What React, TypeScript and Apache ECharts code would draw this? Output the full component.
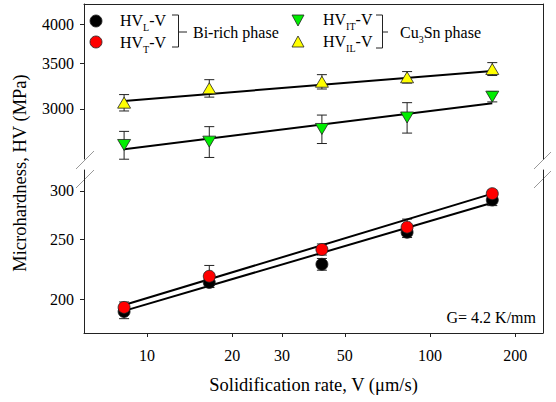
import React, { useEffect, useRef } from "react";
import * as echarts from "echarts";

const V = [8.3, 16.6, 41.5, 83, 166];
const hvL = [191, 213, 228, 257, 290];
const hvLErr = [5, 4, 5, 5, 6];
const hvT = [194, 218, 241, 262, 297];
const hvTErr = [4, 9, 5, 8, 4];
const hvIT = [2656, 2686, 2804, 2915, 3128];
const hvITErr = [125, 140, 135, 150, 55];
const hvIL = [3065, 3218, 3290, 3340, 3435];
const hvILErr = [85, 95, 80, 65, 75];
const fitV = [8.3, 166];
const fitL = [191.5, 287];
const fitT = [195.7, 297];
const fitIT = [2617, 3059];
const fitIL = [3083, 3412];
const xTicks = [10, 20, 30, 50, 100, 200];
const yTicksLow = [200, 250, 300];
const yTicksHigh = [3000, 3500, 4000];

const FONT = "Liberation Serif";
const lg = Math.log10;

export default function App() {
  const ref = useRef<HTMLDivElement>(null);
  useEffect(() => {
    if (!ref.current) return;
    const chart = echarts.init(ref.current, null, { renderer: "svg" });
    const axisLineStyle = { color: "#222", width: 1 };
    const pts = (ys: number[]) => V.map((v, i) => [lg(v), lg(ys[i])]);
    const errs = (ys: number[], es: number[]) =>
      V.map((v, i) => [lg(v), lg(ys[i] - es[i]), lg(ys[i] + es[i])]);
    const fit = (ys: number[]) => fitV.map((v, i) => [lg(v), lg(ys[i])]);

    const errSeries = (grid: number, data: number[][]) => ({
      type: "custom",
      xAxisIndex: grid,
      yAxisIndex: grid * 2,
      z: 2,
      data,
      renderItem: (_p: any, api: any) => {
        const x = api.value(0);
        const lo = api.coord([x, api.value(1)]);
        const hi = api.coord([x, api.value(2)]);
        const w = 5;
        const st = { stroke: "#222", lineWidth: 1 };
        return {
          type: "group",
          children: [
            { type: "line", shape: { x1: lo[0], y1: lo[1], x2: hi[0], y2: hi[1] }, style: st },
            { type: "line", shape: { x1: lo[0] - w, y1: lo[1], x2: lo[0] + w, y2: lo[1] }, style: st },
            { type: "line", shape: { x1: hi[0] - w, y1: hi[1], x2: hi[0] + w, y2: hi[1] }, style: st },
          ],
        };
      },
    });
    const lineSeries = (grid: number, data: number[][]) => ({
      type: "line",
      xAxisIndex: grid,
      yAxisIndex: grid * 2,
      z: 3,
      data,
      symbol: "none",
      lineStyle: { color: "#000", width: 2 },
    });
    const scat = (grid: number, data: number[][], color: string, symbol: string, rot = 0, size: any = 12) => ({
      type: "scatter",
      xAxisIndex: grid,
      yAxisIndex: grid * 2,
      z: 4,
      data,
      symbol,
      symbolRotate: rot,
      symbolSize: size,
      itemStyle: { color, borderColor: "#222", borderWidth: 0.8, opacity: 1 },
    });

    const sub = (main: string, s: string, tail: string) => `{n|${main}}{s|${s}}{n|${tail}}`;
    const rich = {
      n: { fontSize: 16, fontFamily: FONT, lineHeight: 18, verticalAlign: "top", fill: "#000" },
      s: { fontSize: 10, fontFamily: FONT, lineHeight: 10, padding: [10, 0, 0, 0], verticalAlign: "top", fill: "#000" },
    };
    const legendText = (x: number, y: number, text: string) => ({
      type: "text",
      x,
      y,
      style: { text, rich, verticalAlign: "middle", align: "left", fontSize: 16, fontFamily: FONT },
    });
    const seg = (x1: number, y1: number, x2: number, y2: number, stroke = "#222", lineWidth = 1) => ({
      type: "line",
      shape: { x1, y1, x2, y2 },
      style: { stroke, lineWidth },
    });
    const tri = (cx: number, cy: number, down: boolean, fill: string) => ({
      type: "polygon",
      shape: {
        points: down
          ? [[cx - 6, cy - 5], [cx + 6, cy - 5], [cx, cy + 6]]
          : [[cx - 6, cy + 5], [cx + 6, cy + 5], [cx, cy - 6]],
      },
      style: { fill, stroke: "#222", lineWidth: 0.8 },
    });
    const tickLabel = (vals: number[], margin: number) => ({
      customValues: vals.map(lg), margin, fontSize: 16, fontFamily: FONT, color: "#000",
      formatter: (v: number) => String(Math.round(Math.pow(10, v))),
    });

    const option: any = {
      animation: false,
      backgroundColor: "#fff",
      textStyle: { fontFamily: FONT },
      grid: [
        { left: 84, right: 13, top: 4, height: 155 },
        { left: 84, right: 13, top: 170, height: 163 },
      ],
      xAxis: [
        {
          gridIndex: 0, type: "value", position: "top", min: 0.7774, max: 2.3993,
          axisLine: { show: true, onZero: false, lineStyle: axisLineStyle },
          axisTick: { show: false }, axisLabel: { show: false }, splitLine: { show: false },
        },
        {
          gridIndex: 1, type: "value", position: "bottom", min: 0.7774, max: 2.3993,
          axisLine: { show: true, onZero: false, lineStyle: axisLineStyle },
          axisTick: { show: true, inside: false, length: 4, lineStyle: axisLineStyle, customValues: xTicks.map(lg) },
          axisLabel: tickLabel(xTicks, 14),
          splitLine: { show: false },
          name: "Solidification rate, V (\u03bcm/s)", nameLocation: "middle", nameGap: 42,
          nameTextStyle: { fontSize: 18.5, fontFamily: FONT, color: "#000" },
        },
      ],
      yAxis: [
        {
          gridIndex: 0, type: "value", position: "left", min: 3.4036, max: 3.6315,
          axisLine: { show: true, onZero: false, lineStyle: axisLineStyle },
          axisTick: { show: true, inside: false, length: 4, lineStyle: axisLineStyle, customValues: yTicksHigh.map(lg) },
          axisLabel: tickLabel(yTicksHigh, 10),
          splitLine: { show: false },
        },
        {
          gridIndex: 0, type: "value", position: "right", min: 3.4036, max: 3.6315,
          axisLine: { show: true, onZero: false, lineStyle: axisLineStyle },
          axisTick: { show: false }, axisLabel: { show: false }, splitLine: { show: false },
        },
        {
          gridIndex: 1, type: "value", position: "left", min: 2.2462, max: 2.5112,
          axisLine: { show: true, onZero: false, lineStyle: axisLineStyle },
          axisTick: { show: true, inside: false, length: 4, lineStyle: axisLineStyle, customValues: yTicksLow.map(lg) },
          axisLabel: tickLabel(yTicksLow, 10),
          splitLine: { show: false },
        },
        {
          gridIndex: 1, type: "value", position: "right", min: 2.2462, max: 2.5112,
          axisLine: { show: true, onZero: false, lineStyle: axisLineStyle },
          axisTick: { show: false }, axisLabel: { show: false }, splitLine: { show: false },
        },
      ],
      series: [
        errSeries(0, errs(hvIL, hvILErr)),
        errSeries(0, errs(hvIT, hvITErr)),
        errSeries(1, errs(hvL, hvLErr)),
        errSeries(1, errs(hvT, hvTErr)),
        lineSeries(0, fit(fitIL)),
        lineSeries(0, fit(fitIT)),
        lineSeries(1, fit(fitL)),
        lineSeries(1, fit(fitT)),
        scat(0, pts(hvIL), "#ffff00", "triangle", 0, [13, 11]),
        scat(0, pts(hvIT), "#00ee00", "triangle", 180, [13, 11]),
        scat(1, pts(hvL), "#000000", "circle"),
        scat(1, pts(hvT), "#ff0000", "circle"),
      ],
      graphic: [
        // axis breaks
        seg(76, 169, 94, 151, "#999"),
        seg(76, 188, 94, 170, "#999"),
        seg(534, 169, 551, 152, "#999"),
        seg(534, 188, 551, 171, "#999"),
        // y axis title
        {
          type: "text", x: 20, y: 173, rotation: Math.PI / 2,
          style: { text: "Microhardness, HV (MPa)", fontSize: 18.5, fontFamily: FONT, fill: "#000", align: "center", verticalAlign: "middle" },
        },
        // legend left
        { type: "circle", shape: { cx: 96, cy: 21, r: 6 }, style: { fill: "#000", stroke: "#222", lineWidth: 0.8 } },
        { type: "circle", shape: { cx: 96, cy: 42, r: 6 }, style: { fill: "#ff0000", stroke: "#222", lineWidth: 0.8 } },
        legendText(120, 21, sub("HV", "L", "-V")),
        legendText(120, 43, sub("HV", "T", "-V")),
        seg(172, 15, 178.5, 15),
        seg(178.5, 15, 178.5, 47),
        seg(172, 47, 178.5, 47),
        seg(178.5, 32, 187, 32),
        { type: "text", x: 193, y: 32, style: { text: "Bi-rich phase", fontSize: 16, fontFamily: FONT, fill: "#000", verticalAlign: "middle" } },
        // legend right
        tri(298, 20, true, "#00ee00"),
        tri(298, 42, false, "#ffff00"),
        legendText(323, 20, sub("HV", "IT", "-V")),
        legendText(323, 42, sub("HV", "IL", "-V")),
        seg(376, 15, 382.5, 15),
        seg(382.5, 15, 382.5, 48),
        seg(376, 48, 382.5, 48),
        seg(382.5, 32, 388, 32),
        legendText(400, 33, "{n|Cu}{s|3}{n|Sn phase}"),
        // G label
        { type: "text", x: 536, y: 317, style: { text: "G= 4.2 K/mm", fontSize: 16, fontFamily: FONT, fill: "#000", align: "right", verticalAlign: "middle" } },
      ],
    };
    chart.setOption(option);
    return () => chart.dispose();
  }, []);
  return <div ref={ref} style={{ position: "fixed", left: 0, top: 0, width: 556, height: 402 }} />;
}
